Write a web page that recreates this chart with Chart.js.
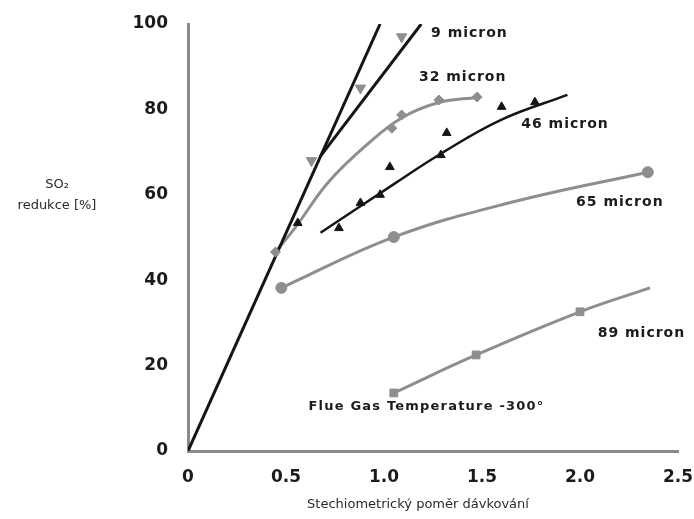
<!DOCTYPE html>
<html>
<head>
<meta charset="utf-8">
<script src="https://cdn.jsdelivr.net/npm/chart.js@4.4.0/dist/chart.umd.min.js"></script>
<style>
  html, body { margin: 0; padding: 0; background: #fff; }
  #wrap { width: 694px; height: 519px; }
</style>
</head>
<body>
<div id="wrap"><canvas id="so2Chart" width="694" height="519"></canvas></div>
<script>
// values, [x, y]
const lineA = [[0, 0], [0.98, 100]];
const lineB = [[0.675, 69], [1.19, 100]];

const micron9Pts = [[0.63, 68], [0.88, 85], [1.09, 97]];

const micron32Curve = [[0.446, 46.6], [0.55, 52.5], [0.717, 63.0], [0.922, 72.1], [1.09, 78.0], [1.28, 81.6], [1.475, 82.8]];
const micron32Pts = [[0.446, 46.6], [1.04, 75.6], [1.09, 78.7], [1.28, 82.2], [1.475, 82.9]];

const micron46Curve = [[0.676, 51.1], [1.06, 62.8], [1.296, 69.8], [1.60, 77.6], [1.936, 83.4]];
const micron46Pts = [[0.56, 53.4], [0.77, 52.2], [0.88, 58.1], [0.98, 60.0], [1.03, 66.5], [1.29, 69.3], [1.32, 74.5], [1.60, 80.6], [1.77, 81.7]];

const micron65Curve = [[0.476, 38.2], [1.05, 50.1], [1.655, 58.3], [2.346, 65.3]];
const micron65Pts = [[0.476, 38.2], [1.05, 50.1], [2.346, 65.3]];

const micron89Curve = [[1.05, 13.6], [1.47, 22.5], [2.0, 32.6], [2.357, 38.2]];
const micron89Pts = [[1.05, 13.6], [1.47, 22.5], [2.0, 32.6]];

const xTicks = [0, 0.5, 1.0, 1.5, 2.0, 2.5];
const yTicks = [0, 20, 40, 60, 80, 100];

// series names, anchored at [x, y] in data units
const seriesNames = [
  ['9 micron', 1.24, 97.9],
  ['32 micron', 1.178, 87.4],
  ['46 micron', 1.70, 76.6],
  ['65 micron', 1.98, 58.3],
  ['89 micron', 2.09, 27.6]
];
const noteText = ['Flue Gas Temperature -300°', 0.615, 10.3];

const xTitle = 'Stechiometrický poměr dávkování';
const yTitle = ['SO₂', 'redukce [%]'];

const GREY = '#8e8e8e';
const BLACK = '#151515';

const toXY = arr => arr.map(([x, y]) => ({ x, y }));

const lineSet = (data, color, width, tension) => ({
    data: toXY(data),
    showLine: true,
    borderColor: color,
    borderWidth: width,
    pointRadius: 0,
    tension: tension,
    fill: false
});

const markerSet = (data, color, style, radius, rotation) => ({
    data: toXY(data),
    showLine: false,
    pointStyle: style,
    pointRadius: radius,
    pointRotation: rotation || 0,
    pointBackgroundColor: color,
    pointBorderColor: color,
    pointBorderWidth: 1
});

const textPlugin = {
    id: 'chartTexts',
    afterDraw(chart) {
        const { ctx, scales: { x, y } } = chart;
        ctx.save();
        ctx.fillStyle = '#1b1b1b';
        ctx.textBaseline = 'middle';
        ctx.textAlign = 'left';
        ctx.font = 'bold 14px "DejaVu Sans"';
        ctx.letterSpacing = '1px';
        seriesNames.forEach(([t, vx, vy]) => {
            ctx.fillText(t, x.getPixelForValue(vx), y.getPixelForValue(vy));
        });
        ctx.font = 'bold 13px "DejaVu Sans"';
        ctx.letterSpacing = '1.2px';
        ctx.fillText(noteText[0], x.getPixelForValue(noteText[1]), y.getPixelForValue(noteText[2]));

        // axis titles
        ctx.letterSpacing = '0px';
        ctx.fillStyle = '#2a2a2a';
        ctx.textAlign = 'center';
        ctx.font = '13px "DejaVu Sans"';
        ctx.fillText(xTitle, 418, 505);
        ctx.fillText(yTitle[0], 57, 185);
        ctx.fillText(yTitle[1], 57, 206);
        ctx.restore();
    }
};

new Chart(document.getElementById('so2Chart'), {
    type: 'scatter',
    data: {
        datasets: [
            markerSet(micron9Pts, GREY, 'triangle', 6, 180),
            markerSet(micron46Pts, BLACK, 'triangle', 5),
            markerSet(micron32Pts, GREY, 'rectRot', 5),
            markerSet(micron65Pts, GREY, 'circle', 5.5),
            markerSet(micron89Pts, GREY, 'rect', 5.5),
            lineSet(lineA, BLACK, 3, 0),
            lineSet(lineB, BLACK, 3, 0),
            lineSet(micron46Curve, BLACK, 2.5, 0.4),
            lineSet(micron32Curve, GREY, 3, 0.4),
            lineSet(micron65Curve, GREY, 3, 0.4),
            lineSet(micron89Curve, GREY, 3, 0.4)
        ]
    },
    options: {
        responsive: false,
        animation: false,
        layout: { padding: { top: 24, right: 0, left: 0, bottom: 0 } },
        plugins: {
            legend: { display: false },
            tooltip: { enabled: false }
        },
        scales: {
            x: {
                type: 'linear',
                min: 0,
                max: 2.5,
                afterBuildTicks: s => { s.ticks = xTicks.map(v => ({ value: v })); },
                afterFit: s => { s.height = 68; s.paddingRight = 16; },
                grid: { display: false },
                border: { display: true, color: '#8a8a8a', width: 3 },
                ticks: {
                    padding: 8,
                    color: '#1b1b1b',
                    font: { family: 'DejaVu Sans', size: 17, weight: 'bold' },
                    callback: v => v === 0 ? '0' : v.toFixed(1)
                }
            },
            y: {
                type: 'linear',
                min: 0,
                max: 100,
                afterBuildTicks: s => { s.ticks = yTicks.map(v => ({ value: v })); },
                afterFit: s => { s.width = 188; },
                grid: { display: false },
                border: { display: true, color: '#8a8a8a', width: 3 },
                ticks: {
                    padding: 12,
                    color: '#1b1b1b',
                    font: { family: 'DejaVu Sans', size: 17, weight: 'bold' }
                }
            }
        }
    },
    plugins: [textPlugin]
});
</script>
</body>
</html>
